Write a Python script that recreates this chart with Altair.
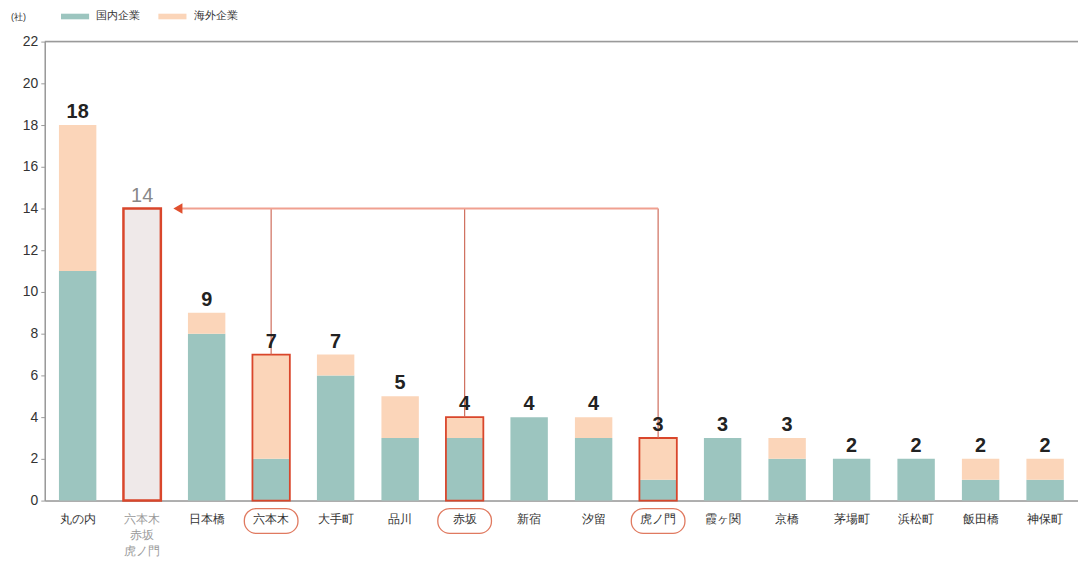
import altair as alt
import pandas as pd

cats = ["丸の内", "六本木・赤坂・虎ノ門", "日本橋", "六本木", "大手町", "品川", "赤坂", "新宿",
        "汐留", "虎ノ門", "霞ヶ関", "京橋", "茅場町", "浜松町", "飯田橋", "神保町"]
domestic = [11, 0, 8, 2, 6, 3, 3, 4, 3, 1, 3, 2, 2, 2, 1, 1]
foreign = [7, 0, 1, 5, 1, 2, 1, 0, 1, 2, 0, 1, 0, 0, 1, 1]
combo_cat = "六本木・赤坂・虎ノ門"
combo_value = 14
highlight = ["六本木", "赤坂", "虎ノ門"]
series_names = ["国内企業", "海外企業"]
y_ticks = list(range(0, 23, 2))

TEAL = "#9cc5bf"
PEACH = "#fbd5b9"
RED = "#d9462b"
FONT = "Liberation Sans"

totals = [d + f for d, f in zip(domestic, foreign)]
totals[cats.index(combo_cat)] = combo_value

rows = []
for c, d, f in zip(cats, domestic, foreign):
    if c == combo_cat:
        continue
    rows.append({"cat": c, "series": series_names[0], "value": d, "ord": 0})
    rows.append({"cat": c, "series": series_names[1], "value": f, "ord": 1})
stack_df = pd.DataFrame(rows)

tot_df = pd.DataFrame({"cat": cats, "total": totals})
tot_df["combo"] = tot_df["cat"] == combo_cat
hl_df = tot_df[tot_df["cat"].isin(highlight)].copy()
hl_df["top"] = combo_value
combo_df = tot_df[tot_df["combo"]].copy()
plain_df = tot_df[~tot_df["combo"]].copy()
arrow_df = pd.DataFrame({"cat": [combo_cat], "cat2": [highlight[-1]], "y": [combo_value]})

W, H = 1040, 462
xscale = alt.Scale(domain=cats, paddingInner=0.42, paddingOuter=0.22)
yscale = alt.Scale(domain=[0, 22], nice=False)

X = alt.X("cat:N", scale=xscale, sort=cats, title=None,
          axis=alt.Axis(labelExpr="split(datum.label, '・')", labelAngle=0,
                        labelFontSize=12, labelFont=FONT, labelLineHeight=16,
                        labelBaseline="top", labelPadding=13, ticks=False,
                        domainColor="#9a9a9a", domainWidth=1.5,
                        labelColor=alt.condition(f"datum.value == '{combo_cat}'",
                                                 alt.value("#9a9a9a"), alt.value("#333333"))))

bars = alt.Chart(stack_df).mark_bar().encode(
    x=X,
    y=alt.Y("value:Q", stack="zero", scale=yscale, title="(社)",
            axis=alt.Axis(values=y_ticks, labelFontSize=14, labelFont=FONT, labelColor="#333333",
                          domainColor="#9a9a9a", domainWidth=1.5, tickColor="#9a9a9a", tickSize=4,
                          labelPadding=3, grid=False, titleAngle=0, titleFontSize=9,
                          titleFontWeight="normal", titleColor="#333333", titleX=-27, titleY=-20,
                          titleAlign="center")),
    color=alt.Color("series:N", scale=alt.Scale(domain=series_names, range=[TEAL, PEACH]),
                    legend=alt.Legend(title=None, orient="none", legendX=16, legendY=-40,
                                      direction="horizontal",
                                      symbolType="M-1,-0.2L1,-0.2L1,0.2L-1,0.2Z",
                                      symbolSize=800, symbolStrokeWidth=0, labelFontSize=11,
                                      labelFont=FONT, labelColor="#333333", columnPadding=18,
                                      labelOffset=7)),
    order=alt.Order("ord:Q"),
)

combo_bar = alt.Chart(combo_df).mark_bar(fill="#efe9e9", stroke=RED, strokeWidth=2.5).encode(
    x=alt.X("cat:N", scale=xscale, sort=cats),
    y=alt.Y("total:Q", scale=yscale),
)

hl_bars = alt.Chart(hl_df).mark_bar(fillOpacity=0, stroke=RED, strokeWidth=1.8).encode(
    x=alt.X("cat:N", scale=xscale, sort=cats),
    y=alt.Y("total:Q", scale=yscale),
)

labels = alt.Chart(plain_df).mark_text(fontSize=20, font=FONT, fontWeight="bold",
                                       color="#222222", baseline="alphabetic", dy=-7).encode(
    x=alt.X("cat:N", scale=xscale, sort=cats),
    y=alt.Y("total:Q", scale=yscale),
    text="total:Q",
)

combo_label = alt.Chart(combo_df).mark_text(fontSize=20, font=FONT, fontWeight="normal",
                                            color="#888888", baseline="alphabetic", dy=-7).encode(
    x=alt.X("cat:N", scale=xscale, sort=cats),
    y=alt.Y("total:Q", scale=yscale),
    text="total:Q",
)

verticals = alt.Chart(hl_df).mark_rule(color="#cf6d5c", strokeWidth=1.2).encode(
    x=alt.X("cat:N", scale=xscale, sort=cats),
    y=alt.Y("total:Q", scale=yscale),
    y2="top:Q",
)

horizontal = alt.Chart(arrow_df).mark_rule(color="#f0a090", strokeWidth=2, xOffset=37).encode(
    x=alt.X("cat:N", scale=xscale, sort=cats),
    x2="cat2:N",
    y=alt.Y("y:Q", scale=yscale),
)

arrowhead = alt.Chart(arrow_df).mark_point(shape="triangle-left", filled=True, color="#e0502f",
                                           size=110, opacity=1, xOffset=36).encode(
    x=alt.X("cat:N", scale=xscale, sort=cats),
    y=alt.Y("y:Q", scale=yscale),
)

ovals = alt.Chart(hl_df).mark_bar(fillOpacity=0, stroke="#e07a60", strokeWidth=1.3,
                                  cornerRadius=12, width=54).encode(
    x=alt.X("cat:N", scale=xscale, sort=cats),
    y=alt.value(H + 8),
    y2=alt.value(H + 33),
)

top_rule = alt.Chart(tot_df.head(1)).mark_rule(color="#9a9a9a", strokeWidth=1.5).encode(
    y=alt.datum(22, scale=yscale),
)

chart = alt.layer(top_rule, bars, combo_bar, hl_bars, verticals, horizontal, arrowhead,
                  labels, combo_label, ovals).properties(
    width=W, height=H,
    padding={"left": 37, "top": 32, "right": 0, "bottom": 60},
    autosize="none",
).configure_view(stroke=None).configure(font=FONT)

chart.save("out.html", embed_options={"renderer": "svg", "actions": False})
